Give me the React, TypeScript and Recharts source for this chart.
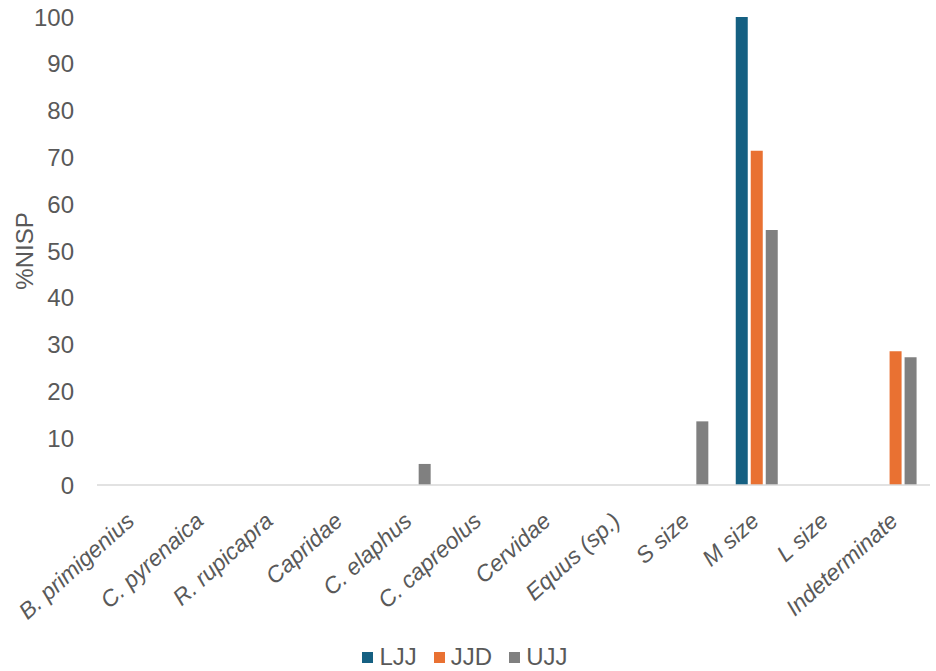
import React from 'react';
import { BarChart, Bar, XAxis, YAxis, Legend } from 'recharts';

const categories = [
  'B. primigenius',
  'C. pyrenaica',
  'R. rupicapra',
  'Capridae',
  'C. elaphus',
  'C. capreolus',
  'Cervidae',
  'Equus (sp.)',
  'S size',
  'M size',
  'L size',
  'Indeterminate',
];
const ljj = [0, 0, 0, 0, 0, 0, 0, 0, 0, 100, 0, 0];
const jjd = [0, 0, 0, 0, 0, 0, 0, 0, 0, 71.4, 0, 28.6];
const ujj = [0, 0, 0, 0, 4.5, 0, 0, 0, 13.6, 54.5, 0, 27.3];
const yTicks = [0, 10, 20, 30, 40, 50, 60, 70, 80, 90, 100];

const seriesNames = ['LJJ', 'JJD', 'UJJ'];
const colors = ['#156082', '#E97132', '#808080'];

const data = categories.map((c, i) => ({
  name: c,
  LJJ: ljj[i],
  JJD: jjd[i],
  UJJ: ujj[i],
}));

const FONT = 'Arial, "Liberation Sans", sans-serif';
const TEXT = '#595959';

const XTick = (props: any) => {
  const { x, y, payload } = props;
  return (
    <g transform={`translate(${x + 4},${y + 30})`}>
      <text
        x={0}
        y={0}
        textAnchor="end"
        transform="rotate(-42)"
        fontFamily={FONT}
        fontSize={23}
        fontStyle="italic"
        fill={TEXT}
      >
        {payload.value}
      </text>
    </g>
  );
};

const LegendContent = () => (
  <div
    style={{
      display: 'flex',
      justifyContent: 'center',
      alignItems: 'center',
      height: 28,
      fontFamily: FONT,
      fontSize: 24,
      color: TEXT,
    }}
  >
    {seriesNames.map((n, i) => (
      <div key={n} style={{ display: 'flex', alignItems: 'center', marginLeft: i === 0 ? 0 : 17 }}>
        <span style={{ display: 'inline-block', width: 11, height: 11, background: colors[i], marginRight: 6 }} />
        <span>{n}</span>
      </div>
    ))}
  </div>
);

export default function App() {
  return (
    <div style={{ position: 'absolute', left: 0, top: 0, width: 936, height: 671, background: '#fff' }}>
      <BarChart
        width={936}
        height={671}
        data={data}
        margin={{ top: 17, right: 6, left: 0, bottom: 0 }}
        barSize={12}
        barGap={3}
      >
        <XAxis
          dataKey="name"
          axisLine={{ stroke: '#d9d9d9', strokeWidth: 1.5 }}
          tickLine={false}
          interval={0}
          height={158}
          tick={<XTick />}
        />
        <YAxis
          domain={[0, 100]}
          ticks={yTicks}
          width={97}
          axisLine={false}
          tickLine={false}
          tickSize={0}
          tickMargin={23}
          tick={{ fontFamily: FONT, fontSize: 24, fill: TEXT }}
          label={{
            value: '%NISP',
            angle: -90,
            position: 'insideLeft',
            offset: 24,
            style: { fontFamily: FONT, fontSize: 24, fill: TEXT, textAnchor: 'middle' },
          }}
        />
        <Legend verticalAlign="bottom" content={<LegendContent />} />
        {seriesNames.map((n, i) => (
          <Bar key={n} dataKey={n} fill={colors[i]} isAnimationActive={false} />
        ))}
      </BarChart>
    </div>
  );
}
